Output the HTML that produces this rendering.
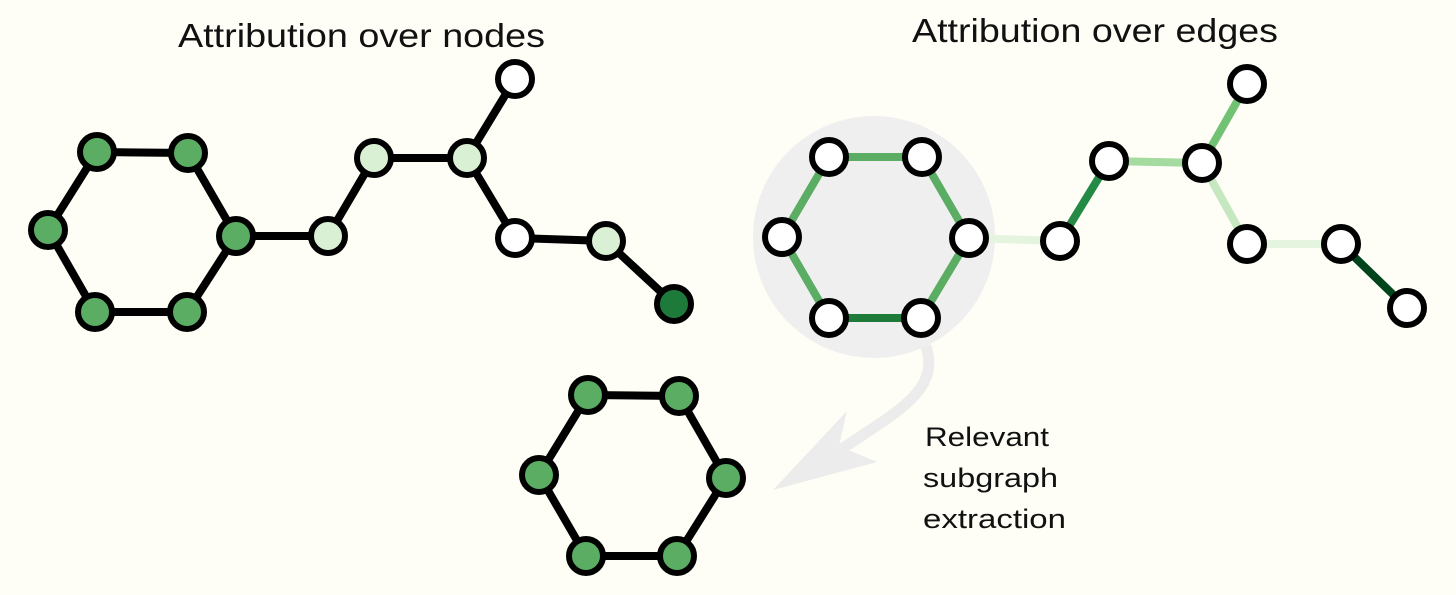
<!DOCTYPE html>
<html><head><style>html,body{margin:0;padding:0;background:#fefef6;}</style></head>
<body>
<svg width="1456" height="595" viewBox="0 0 1456 595" xmlns="http://www.w3.org/2000/svg" style="display:block">
<rect width="1456" height="595" fill="#fefef6"/>
<text x="178" y="47" font-family="Liberation Sans, sans-serif" font-size="33" textLength="367" lengthAdjust="spacingAndGlyphs" fill="#111">Attribution over nodes</text>
<text x="912" y="42" font-family="Liberation Sans, sans-serif" font-size="33" textLength="366" lengthAdjust="spacingAndGlyphs" fill="#111">Attribution over edges</text>

<!-- left graph -->
<g stroke="#000" stroke-width="8" fill="none" stroke-linecap="round">
<polyline points="97,152 188,153 236,236 187,312 95,312 48,230 97,152"/>
<polyline points="236,236 328,236 374,158 467,158 515,79"/>
<polyline points="467,158 515,238 606,241 674,304"/>
</g>
<g stroke="#000" stroke-width="6">
<circle cx="97" cy="152" r="17" fill="#5aad62"/>
<circle cx="188" cy="153" r="17" fill="#5aad62"/>
<circle cx="236" cy="236" r="17" fill="#5aad62"/>
<circle cx="187" cy="312" r="17" fill="#5aad62"/>
<circle cx="95" cy="312" r="17" fill="#5aad62"/>
<circle cx="48" cy="230" r="17" fill="#5aad62"/>
<circle cx="328" cy="236" r="17" fill="#daf0d4"/>
<circle cx="374" cy="158" r="17" fill="#daf0d4"/>
<circle cx="467" cy="158" r="17" fill="#daf0d4"/>
<circle cx="515" cy="79" r="17" fill="#fff"/>
<circle cx="515" cy="238" r="17" fill="#fff"/>
<circle cx="606" cy="241" r="17" fill="#daf0d4"/>
<circle cx="674" cy="304" r="17" fill="#1e7a3a"/>
</g>

<!-- right graph -->
<circle cx="874" cy="237" r="121" fill="#efeff0"/>
<g stroke-width="8" fill="none">
<line x1="829" y1="157" x2="922" y2="157" stroke="#5aad62"/>
<line x1="922" y1="157" x2="969" y2="238" stroke="#5aad62"/>
<line x1="969" y1="238" x2="921" y2="318" stroke="#5aad62"/>
<line x1="921" y1="318" x2="829" y2="318" stroke="#1e7b3a"/>
<line x1="829" y1="318" x2="782" y2="237" stroke="#5aad62"/>
<line x1="782" y1="237" x2="829" y2="157" stroke="#5aad62"/>
<line x1="969" y1="238" x2="1060" y2="241" stroke="#e4f4df"/>
<line x1="1060" y1="241" x2="1109" y2="161" stroke="#258a46"/>
<line x1="1109" y1="161" x2="1202" y2="163" stroke="#a5daa0"/>
<line x1="1202" y1="163" x2="1247" y2="84" stroke="#72c274"/>
<line x1="1202" y1="163" x2="1247" y2="244" stroke="#c6e8c0"/>
<line x1="1247" y1="244" x2="1341" y2="244" stroke="#e4f4df"/>
<line x1="1341" y1="244" x2="1407" y2="308" stroke="#00441b"/>
</g>
<g stroke="#000" stroke-width="6" fill="#fff">
<circle cx="829" cy="157" r="17"/>
<circle cx="922" cy="157" r="17"/>
<circle cx="969" cy="238" r="17"/>
<circle cx="921" cy="318" r="17"/>
<circle cx="829" cy="318" r="17"/>
<circle cx="782" cy="237" r="17"/>
<circle cx="1060" cy="241" r="17"/>
<circle cx="1109" cy="161" r="17"/>
<circle cx="1202" cy="163" r="17"/>
<circle cx="1247" cy="84" r="17"/>
<circle cx="1247" cy="244" r="17"/>
<circle cx="1341" cy="244" r="17"/>
<circle cx="1407" cy="308" r="17"/>
</g>

<!-- arrow -->
<path d="M926,346 C940,390 900,410 840,450" stroke="#ececec" stroke-width="11" fill="none"/>
<polygon points="773,490 847,411 839,446 877,462" fill="#ececec"/>

<!-- bottom hex -->
<polyline points="588,395 679,396 726,478 677,556 586,556 539,475 588,395" stroke="#000" stroke-width="8" fill="none"/>
<g stroke="#000" stroke-width="6" fill="#5aad62">
<circle cx="588" cy="395" r="17"/>
<circle cx="679" cy="396" r="17"/>
<circle cx="726" cy="478" r="17"/>
<circle cx="677" cy="556" r="17"/>
<circle cx="586" cy="556" r="17"/>
<circle cx="539" cy="475" r="17"/>
</g>

<g font-family="Liberation Sans, sans-serif" font-size="27" fill="#111" lengthAdjust="spacingAndGlyphs">
<text x="925" y="446" textLength="124" lengthAdjust="spacingAndGlyphs">Relevant</text>
<text x="923" y="487" textLength="135" lengthAdjust="spacingAndGlyphs">subgraph</text>
<text x="923" y="528" textLength="143" lengthAdjust="spacingAndGlyphs">extraction</text>
</g>
</svg>
</body></html>
